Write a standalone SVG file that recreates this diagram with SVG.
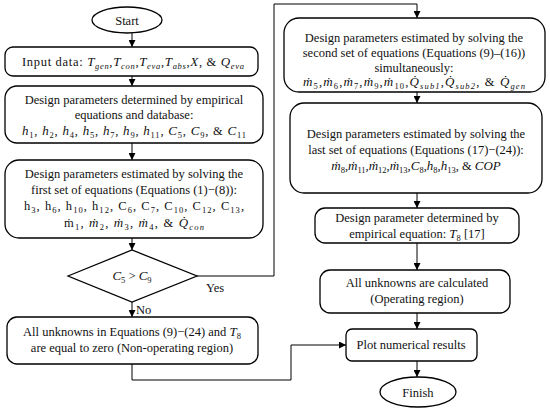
<svg xmlns="http://www.w3.org/2000/svg" width="550" height="414" viewBox="0 0 550 414">
<defs>
<marker id="ah" viewBox="0 0 10 10" refX="10" refY="5" markerWidth="7" markerHeight="7" markerUnits="userSpaceOnUse" orient="auto"><path d="M0,0 L10,5 L0,10 z" fill="#000"/></marker>
<style>
.b{fill:#fff;stroke:#000;stroke-width:1.3}
.c{fill:none;stroke:#000;stroke-width:1;marker-end:url(#ah)}
text{font-family:"Liberation Serif","Times New Roman","DejaVu Serif",serif;font-size:12.5px;fill:#111;text-anchor:middle}
.m{font-style:italic;font-size:13px}
.s{font-size:8.5px;font-style:italic;baseline-shift:-3px}
.u{font-size:8.5px;baseline-shift:-3px}
</style>
</defs>
<g id="connectors">
<path class="c" d="M132,33 V47"/>
<path class="c" d="M132,76 V86"/>
<path class="c" d="M132,143 V160"/>
<path class="c" d="M132,238 V250"/>
<path class="c" d="M132,302 V317"/>
<path class="c" d="M132,364 V380 H291 V345 H346"/>
<path class="c" d="M197,276 H274 V4 H417 V18"/>
<path class="c" d="M417,92 V103"/>
<path class="c" d="M417,193 V208"/>
<path class="c" d="M417,243 V270"/>
<path class="c" d="M417,313 V329"/>
<path class="c" d="M417,361 V377"/>
<text x="136" y="314" style="text-anchor:start">No</text>
<text x="206" y="292" style="text-anchor:start">Yes</text>
</g>
<g id="start">
<ellipse class="b" cx="127" cy="20" rx="35" ry="13"/>
<text x="127" y="24.5">Start</text>
</g>
<g id="input">
<rect class="b" x="5" y="47" width="253" height="29" rx="8"/>
<text x="133" y="65.5" textLength="222" lengthAdjust="spacing">Input data:  <tspan class="m">T</tspan><tspan class="s">gen</tspan>,<tspan class="m">T</tspan><tspan class="s">con</tspan>,<tspan class="m">T</tspan><tspan class="s">eva</tspan>,<tspan class="m">T</tspan><tspan class="s">abs</tspan>,<tspan class="m">X</tspan>, &amp; <tspan class="m">Q</tspan><tspan class="s">eva</tspan></text>
</g>
<g id="empirical">
<rect class="b" x="5" y="86" width="258" height="57" rx="12"/>
<text x="134" y="104">Design parameters determined by empirical</text>
<text x="134" y="119">equations and database:</text>
<text x="134" y="135" textLength="224" lengthAdjust="spacing"><tspan class="m">h</tspan><tspan class="u">1</tspan>,  <tspan class="m">h</tspan><tspan class="u">2</tspan>,  <tspan class="m">h</tspan><tspan class="u">4</tspan>,  <tspan class="m">h</tspan><tspan class="u">5</tspan>,  <tspan class="m">h</tspan><tspan class="u">7</tspan>,  <tspan class="m">h</tspan><tspan class="u">9</tspan>,  <tspan class="m">h</tspan><tspan class="u">11</tspan>,  <tspan class="m">C</tspan><tspan class="u">5</tspan>,  <tspan class="m">C</tspan><tspan class="u">9</tspan>,  &amp; <tspan class="m">C</tspan><tspan class="u">11</tspan></text>
</g>
<g id="first-set">
<rect class="b" x="5" y="160" width="258" height="78" rx="14"/>
<text x="134" y="178">Design parameters estimated by solving the</text>
<text x="134" y="194">first set of equations (Equations (1)−(8)):</text>
<text x="134" y="210" textLength="220" lengthAdjust="spacing">h<tspan class="u">3</tspan>,  h<tspan class="u">6</tspan>,  h<tspan class="u">10</tspan>,  h<tspan class="u">12</tspan>,  C<tspan class="u">6</tspan>,  C<tspan class="u">7</tspan>,  C<tspan class="u">10</tspan>,  C<tspan class="u">12</tspan>,  C<tspan class="u">13</tspan>,</text>
<text x="134" y="227" textLength="140" lengthAdjust="spacing">ṁ<tspan class="u">1</tspan>,  <tspan class="m">ṁ</tspan><tspan class="u">2</tspan>,  <tspan class="m">ṁ</tspan><tspan class="u">3</tspan>,  <tspan class="m">ṁ</tspan><tspan class="u">4</tspan>, &amp; <tspan class="m">Q̇</tspan><tspan class="s">con</tspan></text>
</g>
<g id="decision">
<polygon class="b" points="68,276 132,250 197,276 132,302"/>
<text x="132" y="280"><tspan class="m">C</tspan><tspan class="u">5</tspan> &gt; <tspan class="m">C</tspan><tspan class="u">9</tspan></text>
</g>
<g id="non-operating">
<rect class="b" x="7" y="317" width="251" height="47" rx="10"/>
<text x="132" y="336">All unknowns in Equations (9)−(24) and <tspan class="m">T</tspan><tspan class="u">8</tspan></text>
<text x="132" y="352">are equal to zero (Non-operating region)</text>
</g>
<g id="second-set">
<rect class="b" x="284" y="18" width="261" height="74" rx="15"/>
<text x="414" y="42">Design parameters estimated by solving the</text>
<text x="414" y="57">second set of equations (Equations (9)–(16))</text>
<text x="414" y="72">simultaneously:</text>
<text x="414" y="86" textLength="222" lengthAdjust="spacing"><tspan class="m">ṁ</tspan><tspan class="u">5</tspan>,<tspan class="m">ṁ</tspan><tspan class="u">6</tspan>,<tspan class="m">ṁ</tspan><tspan class="u">7</tspan>,<tspan class="m">ṁ</tspan><tspan class="u">9</tspan>,<tspan class="m">ṁ</tspan><tspan class="u">10</tspan>,<tspan class="m">Q̇</tspan><tspan class="s">sub1</tspan>,<tspan class="m">Q̇</tspan><tspan class="s">sub2</tspan>, &amp;  <tspan class="m">Q̇</tspan><tspan class="s">gen</tspan></text>
</g>
<g id="last-set">
<rect class="b" x="290" y="103" width="252" height="90" rx="14"/>
<text x="416" y="138">Design parameters estimated by solving the</text>
<text x="416" y="154">last set of equations (Equations (17)−(24)):</text>
<text x="416" y="170"><tspan class="m">ṁ</tspan><tspan class="u">8</tspan>,<tspan class="m">ṁ</tspan><tspan class="u">11</tspan>,<tspan class="m">ṁ</tspan><tspan class="u">12</tspan>,<tspan class="m">ṁ</tspan><tspan class="u">13</tspan>,<tspan class="m">C</tspan><tspan class="u">8</tspan>,<tspan class="m">h</tspan><tspan class="u">8</tspan>,<tspan class="m">h</tspan><tspan class="u">13</tspan>, &amp; <tspan class="m">COP</tspan></text>
</g>
<g id="t8">
<rect class="b" x="315" y="208" width="204" height="35" rx="10"/>
<text x="417" y="222">Design parameter determined by</text>
<text x="417" y="238">empirical equation: <tspan class="m">T</tspan><tspan class="u">8</tspan>  [17]</text>
</g>
<g id="operating">
<rect class="b" x="320" y="270" width="190" height="43" rx="10"/>
<text x="417" y="287">All unknowns are calculated</text>
<text x="417" y="303">(Operating region)</text>
</g>
<g id="plot">
<rect class="b" x="346" y="329" width="131" height="32" rx="6"/>
<text x="411" y="349">Plot numerical results</text>
</g>
<g id="finish">
<ellipse class="b" cx="418" cy="392" rx="38" ry="15"/>
<text x="418" y="396.5">Finish</text>
</g>
</svg>
